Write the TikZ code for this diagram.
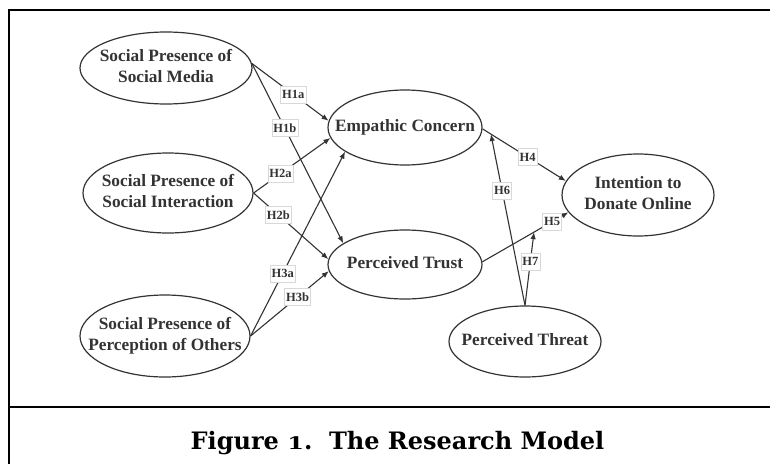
\documentclass[tikz,border=0pt]{standalone}
\usepackage{fontspec}
\usepackage{graphicx}
\setmainfont{Liberation Serif}
\newfontfamily\titlefont{DejaVu Serif}
\usetikzlibrary{shapes.geometric,arrows.meta}
\definecolor{ink}{HTML}{333333}
\definecolor{boxedge}{HTML}{D8D8D8}
\newcommand\ctext[1]{\makebox[0pt]{\smash{\raisebox{\dimexpr(\depth-\height)/2\relax}{\begin{tabular}{@{}c@{}}#1\end{tabular}}}}}
\tikzset{
  ell/.style={draw=ink, line width=1.2pt, ellipse, inner sep=0pt,
    font=\fontsize{17.3}{20.5}\selectfont\bfseries, text=ink},
  arr/.style={draw=ink, line width=1.1pt, -{Latex[length=7pt,width=5.5pt]}},
  lab/.style={fill=white, draw=boxedge, line width=0.5pt, inner xsep=1.6pt, inner ysep=0pt,
    minimum height=17pt, font=\fontsize{12.5}{14}\selectfont\bfseries, text=ink},
}
\begin{document}
\begin{tikzpicture}[x=1pt,y=-1pt]
\useasboundingbox (0,0) rectangle (770,463);
% frame
\draw[line width=2.5pt] (9,480) -- (9,10) -- (790,10);
\draw[line width=2.5pt] (9,407) -- (790,407);
% constructs
\node[ell, minimum width=172pt, minimum height=72pt] (sm) at (166,68) {\ctext{Social Presence of\\Social Media}};
\node[ell, minimum width=170pt, minimum height=80pt] (si) at (168,193) {\ctext{Social Presence of\\Social Interaction}};
\node[ell, minimum width=170pt, minimum height=82pt] (po) at (165,336) {\ctext{Social Presence of\\Perception of Others}};
\node[ell, minimum width=154pt, minimum height=75pt] (ec) at (405,127.5) {\ctext{Empathic Concern}};
\node[ell, minimum width=154pt, minimum height=69pt] (pt) at (405,264.5) {\ctext{Perceived Trust}};
\node[ell, minimum width=152pt, minimum height=82pt] (id) at (638,195) {\ctext{Intention to\\Donate Online}};
\node[ell, minimum width=152pt, minimum height=71pt] (pth) at (525,341.5) {\ctext{Perceived Threat}};
% paths
\draw[arr] (sm.3) -- node[lab,pos=0.54]{H1a} (ec.175.5);
\draw[arr] (sm.3) -- node[lab,pos=0.36]{H1b} (pt.161);
\draw[arr] (si.east) -- node[lab,pos=0.35]{H2a} (ec.188);
\draw[arr] (si.east) -- node[lab,pos=0.33]{H2b} (pt.176.5);
\draw[arr] (po.east) -- node[lab,pos=0.34]{H3a} (ec.202);
\draw[arr] (po.east) -- node[lab,pos=0.6]{H3b} (pt.185.5);
\draw[arr] (ec.-1.5) -- coordinate[pos=0.1] (m4) node[lab,pos=0.54]{H4} (id.169);
\draw[arr] (pt.2) -- coordinate[pos=0.6] (m5) node[lab,pos=0.81]{H5} (id.194);
\draw[arr] (pth.north) -- node[lab,pos=0.67]{H6} (m4);
\draw[arr] (pth.north) -- node[lab,pos=0.6]{H7} (m5);
% caption
\node[font=\titlefont\bfseries\fontsize{24}{28}\selectfont, anchor=base] (cap) at (397.5,449)
  {Figure \scalebox{1}[0.72]{1}.\ \ The Research Model};
\end{tikzpicture}
\end{document}
